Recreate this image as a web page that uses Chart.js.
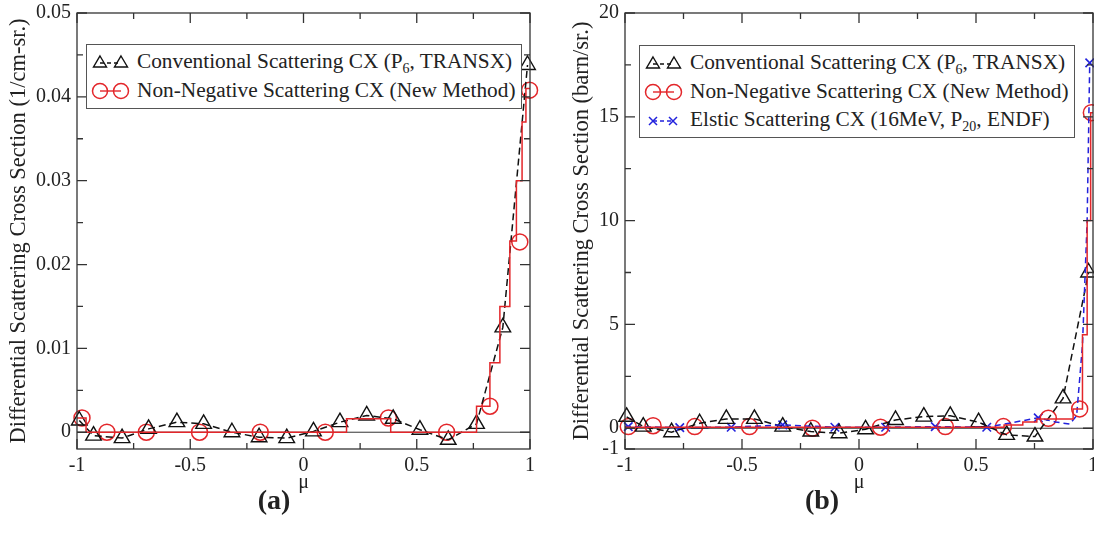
<!DOCTYPE html>
<html>
<head>
<meta charset="utf-8">
<script src="https://cdn.jsdelivr.net/npm/chart.js@4.4.0/dist/chart.umd.min.js"></script>
<style>
  html, body { margin: 0; padding: 0; background: #fff; }
  body { width: 1094px; height: 533px; position: relative; overflow: hidden; font-family: "Liberation Serif", "DejaVu Serif", serif; color: #222; }
  canvas { position: absolute; top: 0; }
  #chartA { left: 0; }
  #chartB { left: 547px; }
  .legend { position: absolute; background: #fff; border: 1.5px solid #555; box-sizing: border-box; font-size: 21.3px; padding-top: 2px; }
  .legend .row { height: 28.5px; line-height: 28.5px; white-space: nowrap; position: relative; }
  .legend svg { position: absolute; left: 0; top: 0; }
  .legend .txt { position: absolute; left: 50px; top: 0; }
  .legend sub { font-size: 14px; vertical-align: -5px; line-height: 0; }
  .panel-tag { position: absolute; top: 484px; font-weight: bold; font-size: 28px; width: 80px; text-align: center; }
</style>
</head>
<body>
<canvas id="chartA" width="547" height="533"></canvas>
<canvas id="chartB" width="547" height="533"></canvas>

<div class="legend" style="left:86px; top:44px; width:436px; height:65px;">
  <div class="row">
    <svg width="48" height="28"><line x1="13" y1="16" x2="34" y2="16" stroke="#111" stroke-width="1.3" stroke-dasharray="4,3"/><polygon points="13,9 19.5,20 6.5,20" fill="none" stroke="#111" stroke-width="1.4"/><polygon points="34,9 40.5,20 27.5,20" fill="none" stroke="#111" stroke-width="1.4"/></svg>
    <span class="txt">Conventional Scattering CX (P<sub>6</sub>, TRANSX)</span>
  </div>
  <div class="row">
    <svg width="48" height="28"><line x1="13" y1="15" x2="34" y2="15" stroke="#e3262a" stroke-width="1.4"/><circle cx="13" cy="15" r="7.5" fill="none" stroke="#e3262a" stroke-width="1.5"/><circle cx="34" cy="15" r="7.5" fill="none" stroke="#e3262a" stroke-width="1.5"/></svg>
    <span class="txt">Non-Negative Scattering CX (New Method)</span>
  </div>
</div>

<div class="legend" style="left:639px; top:45px; width:436px; height:93px;">
  <div class="row">
    <svg width="48" height="28"><line x1="13" y1="16" x2="34" y2="16" stroke="#111" stroke-width="1.3" stroke-dasharray="4,3"/><polygon points="13,9 19.5,20 6.5,20" fill="none" stroke="#111" stroke-width="1.4"/><polygon points="34,9 40.5,20 27.5,20" fill="none" stroke="#111" stroke-width="1.4"/></svg>
    <span class="txt">Conventional Scattering CX (P<sub>6</sub>, TRANSX)</span>
  </div>
  <div class="row">
    <svg width="48" height="28"><line x1="13" y1="15" x2="34" y2="15" stroke="#e3262a" stroke-width="1.4"/><circle cx="13" cy="15" r="7.5" fill="none" stroke="#e3262a" stroke-width="1.5"/><circle cx="34" cy="15" r="7.5" fill="none" stroke="#e3262a" stroke-width="1.5"/></svg>
    <span class="txt">Non-Negative Scattering CX (New Method)</span>
  </div>
  <div class="row">
    <svg width="48" height="28"><line x1="13" y1="16" x2="33" y2="16" stroke="#2222dd" stroke-width="1.3" stroke-dasharray="4,3"/><path d="M9,12 L17,20 M17,12 L9,20 M29,12 L37,20 M37,12 L29,20" stroke="#2222dd" stroke-width="1.5"/></svg>
    <span class="txt">Elstic Scattering CX (16MeV, P<sub>20</sub>, ENDF)</span>
  </div>
</div>

<div class="panel-tag" style="left:234px;">(a)</div>
<div class="panel-tag" style="left:782px;">(b)</div>

<script>
// shared mu axis
const muTicks = [-1, -0.5, 0, 0.5, 1];
const muMinor = [-0.75, -0.25, 0.25, 0.75];

// (a) 1/cm-sr.
const aYTicks = [0, 0.01, 0.02, 0.03, 0.04, 0.05];
const aYMinor = [0.005, 0.015, 0.025, 0.035, 0.045];
const aConvMu  = [-0.99, -0.927, -0.801, -0.684, -0.559, -0.441, -0.316, -0.196, -0.074, 0.044, 0.161, 0.279, 0.396, 0.514, 0.639, 0.764, 0.880, 0.989];
const aConvVal = [0.0014, -0.0004, -0.0007, 0.0004, 0.0012, 0.001, 0, -0.0006, -0.0007, 0.0001, 0.0012, 0.002, 0.0016, 0.0003, -0.0009, 0.001, 0.0125, 0.0438];
const aNewMu   = [-0.978, -0.868, -0.694, -0.459, -0.191, 0.096, 0.375, 0.632, 0.823, 0.955, 0.998];
const aNewVal  = [0.0017, 0, 0, 0, 0, 0, 0.0017, 0, 0.0031, 0.0227, 0.0408];
const aStepMu  = [-1, -0.96, 0.19, 0.385, 0.764, 0.823, 0.867, 0.911, 0.94, 0.965, 0.982, 1];
const aStepVal = [0.0017, 0, 0.0016, 0, 0.0031, 0.0083, 0.015, 0.0228, 0.030, 0.037, 0.041, 0.041];

// (b) barn/sr.
const bYTicks = [-1, 0, 5, 10, 15, 20];
const bYMinor = [2.5, 7.5, 12.5, 17.5];
const bConvMu  = [-0.993, -0.922, -0.801, -0.681, -0.567, -0.447, -0.326, -0.206, -0.085, 0.028, 0.156, 0.277, 0.39, 0.511, 0.631, 0.752, 0.872, 0.981];
const bConvVal = [0.55, 0.08, -0.19, 0.24, 0.45, 0.45, 0.08, -0.16, -0.24, -0.05, 0.4, 0.56, 0.6, 0.29, -0.32, -0.4, 1.44, 7.5];
const bNewMu   = [-0.986, -0.88, -0.702, -0.468, -0.199, 0.092, 0.369, 0.617, 0.809, 0.943, 0.993];
const bNewVal  = [0.08, 0.12, 0.08, 0.08, 0, 0.05, 0.08, 0.08, 0.48, 0.93, 15.2];
const bStepMu  = [-1, 0.62, 0.7, 0.76, 0.915, 0.955, 0.975, 0.99, 1];
const bStepVal = [0.05, 0.15, 0.3, 0.45, 0.93, 4.5, 10, 15.2, 15.2];
const bEndfMu  = [-0.986, -0.766, -0.546, -0.326, -0.103, 0.114, 0.326, 0.546, 0.766, 0.986];
const bEndfVal = [0.08, 0.03, 0.05, 0.16, 0.05, 0.05, 0.08, 0.05, 0.5, 17.6];
const bEndfLineMu  = [-1, -0.986, -0.766, -0.546, -0.326, -0.103, 0.114, 0.326, 0.546, 0.766, 0.84, 0.9, 0.93, 0.955, 0.975, 0.986];
const bEndfLineVal = [0.08, 0.08, 0.03, 0.05, 0.16, 0.05, 0.05, 0.08, 0.05, 0.5, 0.3, 0.2, 0.6, 4, 10, 17.6];

const BLACK = '#111';
const RED = '#e3262a';
const BLUE = '#2222dd';
const AXIS = '#333';
const serif = '"Liberation Serif", "DejaVu Serif", serif';

Chart.defaults.font.family = serif;

function pts(xs, ys) {
  return xs.map((x, i) => ({ x: x, y: ys[i] }));
}

// zero line under the data, box + inward ticks on top
const frameTicks = {
  id: 'frameTicks',
  beforeDatasetsDraw(chart) {
    const { ctx, chartArea: a, scales: { y } } = chart;
    const y0 = y.getPixelForValue(0);
    ctx.save();
    ctx.strokeStyle = AXIS;
    ctx.lineWidth = 1;
    ctx.beginPath();
    ctx.moveTo(a.left, y0);
    ctx.lineTo(a.right, y0);
    ctx.stroke();
    ctx.restore();
  },
  afterDatasetsDraw(chart, args, opts) {
    const { ctx, chartArea: a, scales: { x, y } } = chart;
    ctx.save();
    ctx.strokeStyle = AXIS;
    ctx.lineWidth = 1.3;
    ctx.strokeRect(a.left, a.top, a.right - a.left, a.bottom - a.top);
    ctx.beginPath();
    const xt = (vals, len) => vals.forEach(v => {
      const px = x.getPixelForValue(v);
      ctx.moveTo(px, a.bottom); ctx.lineTo(px, a.bottom - len);
      ctx.moveTo(px, a.top); ctx.lineTo(px, a.top + len);
    });
    const yt = (vals, len) => vals.forEach(v => {
      const py = y.getPixelForValue(v);
      ctx.moveTo(a.left, py); ctx.lineTo(a.left + len, py);
      ctx.moveTo(a.right, py); ctx.lineTo(a.right - len, py);
    });
    xt(opts.xMajor, 10); xt(opts.xMinor, 6);
    yt(opts.yMajor, 10); yt(opts.yMinor, 6);
    ctx.stroke();
    ctx.restore();
  }
};

function convSet(data) {
  return {
    data: data, showLine: true, borderColor: BLACK, borderWidth: 1.5, borderDash: [7, 4],
    pointStyle: 'triangle', pointRadius: 9, pointBorderColor: BLACK, pointBorderWidth: 1.4,
    pointBackgroundColor: 'rgba(0,0,0,0)', clip: false
  };
}
function circleSet(data) {
  return {
    data: data, showLine: false, pointStyle: 'circle', pointRadius: 8,
    pointBorderColor: RED, pointBorderWidth: 1.5, pointBackgroundColor: 'rgba(0,0,0,0)', clip: false
  };
}
function stepSet(data) {
  return {
    data: data, showLine: true, stepped: true, borderColor: RED, borderWidth: 1.5,
    pointRadius: 0, clip: false
  };
}

function makeChart(id, cfg) {
  return new Chart(document.getElementById(id), {
    type: 'scatter',
    data: { datasets: cfg.datasets },
    options: {
      responsive: false,
      animation: false,
      layout: { padding: cfg.padding, autoPadding: false },
      plugins: {
        legend: { display: false },
        tooltip: { enabled: false },
        frameTicks: { xMajor: muTicks, xMinor: muMinor, yMajor: cfg.yTicks, yMinor: cfg.yMinor }
      },
      scales: {
        x: {
          type: 'linear', min: -1, max: 1,
          grid: { display: false, drawTicks: false }, border: { display: false },
          afterBuildTicks: s => { s.ticks = muTicks.map(v => ({ value: v })); },
          afterFit: s => { s.height = 46; s.paddingLeft = 0; s.paddingRight = 0; },
          ticks: { font: { family: serif, size: 20 }, color: '#222', padding: 5, maxRotation: 0, autoSkip: false, callback: v => String(v) },
          title: { display: true, text: 'μ', font: { family: serif, size: 20 }, color: '#222', padding: 0 }
        },
        y: {
          type: 'linear', min: cfg.yMin, max: cfg.yMax,
          grid: { display: false, drawTicks: false }, border: { display: false },
          afterBuildTicks: s => { s.ticks = cfg.yTicks.map(v => ({ value: v })); },
          afterFit: s => { s.width = cfg.yWidth; s.paddingTop = 0; s.paddingBottom = 0; },
          ticks: { font: { family: serif, size: 20 }, color: '#222', padding: 6, autoSkip: false, callback: cfg.yFormat },
          title: { display: true, text: cfg.yTitle, font: { family: serif, size: 22.5 }, color: '#222', padding: 0 }
        }
      }
    },
    plugins: [frameTicks]
  });
}

function drawAll() {
  makeChart('chartA', {
    padding: { left: 6, top: 13, right: 17, bottom: 38 },
    yWidth: 71, yMin: -0.002, yMax: 0.05,
    yTicks: aYTicks, yMinor: aYMinor,
    yFormat: v => (v === 0 ? '0' : v.toFixed(2)),
    yTitle: 'Differential Scattering Cross Section (1/cm-sr.)',
    datasets: [
      stepSet(pts(aStepMu, aStepVal)),
      convSet(pts(aConvMu, aConvVal)),
      circleSet(pts(aNewMu, aNewVal))
    ]
  });

  makeChart('chartB', {
    padding: { left: 22, top: 13, right: 1, bottom: 38 },
    yWidth: 56, yMin: -1, yMax: 20,
    yTicks: bYTicks, yMinor: bYMinor,
    yFormat: v => String(v),
    yTitle: 'Differential Scattering Cross Section (barn/sr.)',
    datasets: [
      stepSet(pts(bStepMu, bStepVal)),
      {
        data: pts(bEndfLineMu, bEndfLineVal), showLine: true, borderColor: BLUE, borderWidth: 1.5,
        borderDash: [6, 4], pointRadius: 0, clip: false
      },
      convSet(pts(bConvMu, bConvVal)),
      circleSet(pts(bNewMu, bNewVal)),
      {
        data: pts(bEndfMu, bEndfVal), showLine: false, pointStyle: 'crossRot', pointRadius: 6,
        pointBorderColor: BLUE, pointBorderWidth: 1.6, clip: false
      }
    ]
  });
}

// make sure the serif face is ready before painting on the canvases
if (document.fonts && document.fonts.load) {
  Promise.all([
    document.fonts.load('20px "Liberation Serif"'),
    document.fonts.load('bold 20px "Liberation Serif"')
  ]).then(drawAll, drawAll);
} else {
  drawAll();
}
</script>
</body>
</html>
